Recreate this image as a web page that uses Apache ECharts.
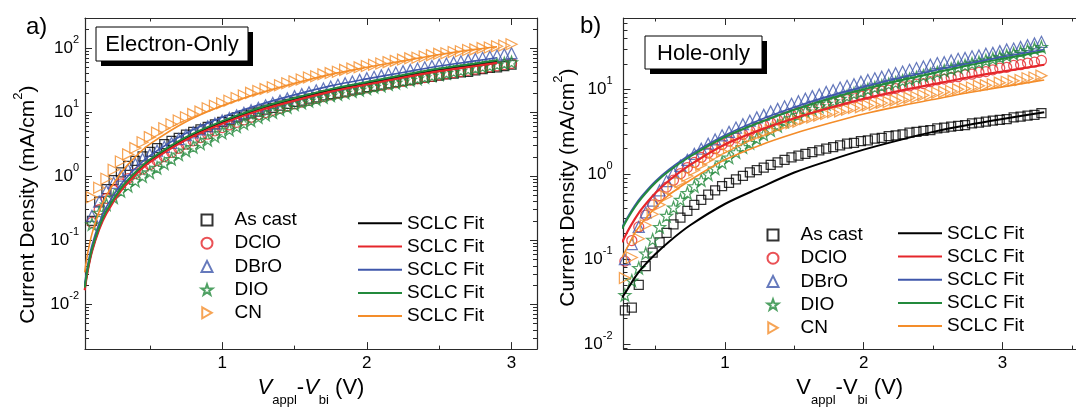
<!DOCTYPE html>
<html>
<head>
<meta charset="utf-8">
<script src="https://cdn.jsdelivr.net/npm/echarts@6/dist/echarts.min.js"></script>
<style>
  html, body { margin: 0; padding: 0; background: #fff; }
  #chart { width: 1076px; height: 412px; }
</style>
</head>
<body>
<div id="chart"></div>
<script>
// ---------- Panel a) electron-only devices ----------
const voltsA = [0.05,0.10,0.15,0.20,0.25,0.30,0.35,0.40,0.45,0.50,0.55,0.60,0.65,0.70,0.75,0.80,0.85,0.90,0.95,1.00,
  1.05,1.10,1.15,1.20,1.25,1.30,1.35,1.40,1.45,1.50,1.55,1.60,1.65,1.70,1.75,1.80,1.85,1.90,1.95,2.00,
  2.05,2.10,2.15,2.20,2.25,2.30,2.35,2.40,2.45,2.50,2.55,2.60,2.65,2.70,2.75,2.80,2.85,2.90,2.95,3.00];
const asCastA = [0.079,0.20,0.40,0.63,0.87,1.15,1.45,1.74,2.04,2.40,2.75,3.16,3.55,3.98,4.47,4.90,5.37,5.89,6.46,7.08,
  7.59,8.32,8.91,9.55,10.2,11.0,11.7,12.6,13.5,14.5,15.1,16.2,17.0,18.2,19.1,20.0,20.9,22.4,23.4,24.5,
  25.7,26.9,28.2,29.5,30.9,31.6,33.1,34.7,35.5,37.2,38.9,39.8,41.7,42.7,44.7,46.8,49.0,50.1,52.5,55.0];
const dcloA = [0.089,0.19,0.30,0.45,0.60,0.76,0.92,1.10,1.29,1.51,1.75,2.03,2.36,2.73,3.16,3.56,4.02,4.53,5.11,5.75,
  6.31,6.92,7.59,8.32,9.12,9.86,10.7,11.5,12.5,13.5,14.4,15.3,16.4,17.5,18.6,19.6,20.6,21.7,22.8,24.0,
  25.1,26.3,27.5,28.8,30.2,31.6,33.1,34.7,36.3,38.0,39.6,41.3,43.1,44.9,46.8,48.8,50.8,53.0,55.2,57.5];
const dbroA = [0.112,0.24,0.40,0.59,0.79,1.02,1.26,1.55,1.86,2.19,2.51,2.88,3.31,3.80,4.37,4.85,5.40,6.00,6.67,7.41,
  8.13,8.91,9.77,10.7,11.7,12.8,13.9,15.1,16.4,17.8,19.1,20.4,21.9,23.4,25.1,26.7,28.3,30.1,31.9,33.9,
  35.6,37.5,39.4,41.5,43.7,45.7,47.9,50.1,52.5,55.0,57.3,59.7,62.2,64.9,67.6,70.5,73.5,76.6,79.8,83.2];
const dioA = [0.089,0.178,0.269,0.363,0.468,0.589,0.708,0.851,1.00,1.15,1.35,1.58,1.86,2.19,2.51,2.86,3.25,3.70,4.21,4.79,
  5.35,5.97,6.67,7.45,8.32,9.12,10.0,11.0,12.0,13.2,14.1,15.0,16.0,17.1,18.2,19.1,20.1,21.2,22.3,23.4,
  24.7,25.9,27.3,28.7,30.2,31.8,33.4,35.2,37.0,38.9,40.7,42.7,44.7,46.8,49.0,51.1,53.2,55.5,57.8,60.3];
const cnA = [0.316,0.468,0.661,0.912,1.26,1.70,2.19,2.75,3.39,4.07,4.79,5.62,6.46,7.41,8.32,9.33,10.2,11.5,12.6,13.8,
  15.1,16.6,18.2,20.0,21.4,22.9,24.5,26.3,28.2,30.2,32.4,34.7,36.3,38.9,40.7,42.7,45.7,47.9,50.1,52.5,
  55.0,57.5,60.3,63.1,66.1,69.2,70.8,74.1,77.6,81.3,83.2,87.1,89.1,93.3,95.5,100,102,107,110,115];

const fitVoltsA = [0.05,0.07,0.10,0.15,0.20,0.30,0.40,0.50,0.75,1.00,1.25,1.50,1.75,2.00,2.25,2.50,2.75,2.90];
const asCastFitA = [0.0174,0.0339,0.0692,0.155,0.275,0.617,1.10,1.74,3.89,6.92,11.0,15.8,21.9,28.2,36.3,45.7,55.0,61.7];
const dcloFitA = [0.0166,0.0324,0.0661,0.148,0.263,0.589,1.05,1.66,3.72,6.61,10.5,15.1,20.9,27.0,34.7,43.7,52.5,58.9];
const dbroFitA = [0.0209,0.0407,0.0832,0.186,0.331,0.741,1.32,2.09,4.68,8.32,12.9,18.6,25.7,33.1,41.7,52.5,63.1,70.8];
const dioFitA = [0.0182,0.0355,0.0724,0.162,0.288,0.646,1.15,1.82,4.07,7.24,11.5,16.6,22.9,29.5,38.0,47.9,57.5,64.6];
const cnFitA = [0.0316,0.0617,0.126,0.282,0.501,1.12,2.00,3.16,7.08,12.6,19.5,28.2,38.9,50.1,63.1,79.4,95.5,105];

// ---------- Panel b) hole-only devices ----------
const voltsB = [0.28,0.33,0.38,0.43,0.48,0.53,0.58,0.63,0.68,0.73,0.78,0.83,0.88,0.93,0.98,1.03,1.08,1.13,1.18,1.23,
  1.28,1.33,1.38,1.43,1.48,1.53,1.58,1.63,1.68,1.73,1.78,1.83,1.88,1.93,1.98,2.03,2.08,2.13,2.18,2.23,
  2.28,2.33,2.38,2.43,2.48,2.53,2.58,2.63,2.68,2.73,2.78,2.83,2.88,2.93,2.98,3.03,3.08,3.13,3.18,3.23,3.28];
const asCastB = [0.025,0.027,0.050,0.083,0.120,0.158,0.204,0.257,0.309,0.372,0.437,0.501,0.575,0.646,0.724,0.794,0.871,0.955,1.05,1.12,
  1.20,1.29,1.38,1.48,1.58,1.66,1.74,1.82,1.91,2.00,2.09,2.19,2.29,2.34,2.45,2.51,2.63,2.69,2.82,2.88,
  2.95,3.09,3.16,3.24,3.31,3.47,3.55,3.63,3.72,3.80,3.98,4.07,4.17,4.27,4.37,4.47,4.68,4.79,4.90,5.01,5.25];
const dcloB = [0.095,0.166,0.240,0.331,0.437,0.562,0.708,0.851,1.02,1.20,1.38,1.58,1.78,2.00,2.24,2.45,2.69,2.95,3.24,3.55,
  3.80,4.07,4.37,4.68,5.01,5.37,5.62,6.03,6.31,6.61,6.92,7.24,7.59,7.94,8.32,8.71,9.12,9.55,9.77,10.2,
  10.7,11.0,11.5,11.7,12.3,12.9,13.2,13.8,14.1,14.8,15.1,15.8,16.2,17.0,17.8,18.2,19.1,19.5,20.4,20.9,21.9];
const dbroB = [0.100,0.151,0.240,0.355,0.490,0.646,0.832,1.05,1.26,1.48,1.74,2.00,2.29,2.57,2.88,3.16,3.55,3.89,4.27,4.68,
  5.01,5.50,5.89,6.31,6.76,7.24,7.76,8.32,8.71,9.33,9.77,10.5,11.0,11.5,12.3,12.9,13.5,14.1,14.8,15.5,
  16.2,17.0,17.8,18.6,19.5,20.4,20.9,21.9,22.9,23.4,24.5,25.1,26.3,26.9,28.2,29.5,30.2,31.6,33.1,34.7,36.3];
const dioB = [0.038,0.056,0.079,0.117,0.170,0.240,0.324,0.407,0.501,0.603,0.724,0.851,1.00,1.17,1.38,1.58,1.82,2.09,2.34,2.63,
  2.95,3.31,3.72,4.17,4.57,5.01,5.50,5.89,6.31,6.76,7.24,7.76,8.32,8.91,9.33,10.0,10.5,11.0,11.5,12.0,
  12.6,13.2,13.8,14.5,15.1,15.8,16.6,17.4,18.2,19.1,20.0,20.9,21.9,22.9,24.0,25.1,26.3,27.5,28.8,30.2,31.6];
const cnB = [0.060,0.105,0.174,0.251,0.339,0.437,0.550,0.676,0.813,0.955,1.12,1.29,1.48,1.66,1.86,2.04,2.24,2.45,2.69,2.88,
  3.09,3.31,3.55,3.80,3.98,4.17,4.47,4.68,4.90,5.13,5.37,5.50,5.75,6.03,6.17,6.46,6.61,6.92,7.08,7.41,
  7.59,7.94,8.13,8.51,8.71,9.12,9.33,9.55,10.0,10.2,10.5,11.0,11.2,11.5,12.0,12.3,12.6,12.9,13.5,13.8,14.5];

const fitVoltsB = [0.26,0.30,0.35,0.40,0.50,0.60,0.75,1.00,1.25,1.50,1.75,2.00,2.25,2.50,2.75,3.00,3.30];
const asCastFitB = [0.0355,0.0447,0.0603,0.0776,0.115,0.162,0.251,0.447,0.692,1.05,1.45,1.95,2.51,3.16,3.80,4.47,5.37];
const dcloFitB = [0.158,0.214,0.295,0.389,0.603,0.851,1.29,2.24,3.31,4.57,6.03,7.76,9.55,11.5,13.8,16.2,19.5];
const dbroFitB = [0.240,0.316,0.427,0.550,0.832,1.15,1.70,2.88,4.37,6.17,8.32,10.7,13.5,16.6,20.0,24.0,29.5];
const dioFitB = [0.229,0.302,0.407,0.525,0.794,1.10,1.62,2.75,4.07,5.75,7.76,10.0,12.6,15.5,19.1,22.9,28.2];
const cnFitB = [0.105,0.141,0.200,0.263,0.407,0.575,0.851,1.48,2.19,3.02,3.98,5.13,6.31,7.59,9.12,10.7,12.9];

// ---------- Tick values ----------
const xMajorTicks = [1, 2, 3];
const xMinorTicks = [0.5, 1.5, 2.5, 3.5];
const yMajorTicksA = [0.01, 0.1, 1, 10, 100];
const yMinorTicksA = [0.002,0.003,0.004,0.005,0.006,0.007,0.008,0.009,
  0.02,0.03,0.04,0.05,0.06,0.07,0.08,0.09, 0.2,0.3,0.4,0.5,0.6,0.7,0.8,0.9,
  2,3,4,5,6,7,8,9, 20,30,40,50,60,70,80,90, 200];
const yMajorTicksB = [0.01, 0.1, 1, 10];
const yMinorTicksB = [0.009, 0.02,0.03,0.04,0.05,0.06,0.07,0.08,0.09, 0.2,0.3,0.4,0.5,0.6,0.7,0.8,0.9,
  2,3,4,5,6,7,8,9, 20,30,40,50,60];

const sampleNames = ['As cast', 'DClO', 'DBrO', 'DIO', 'CN'];
const fitNames = ['As cast fit', 'DClO fit', 'DBrO fit', 'DIO fit', 'CN fit'];

// ---------- Styling ----------
const FONT = '"Liberation Sans", Arial, Helvetica, sans-serif';
const AXIS_COLOR = '#2a2a2a';
const COLORS = ['#000000', '#e5262b', '#3f57ab', '#238a3c', '#f48d2a'];
const STAR = 'path://M0,-10 L2.35,-3.24 L9.51,-3.09 L3.8,1.24 L5.88,8.09 L0,4 L-5.88,8.09 L-3.8,1.24 L-9.51,-3.09 L-2.35,-3.24 Z';
const RIGHT_TRIANGLE = 'path://M0,0 L17.32,10 L0,20 Z';
const SYMBOLS = [
  { symbol: 'rect', size: 9 },
  { symbol: 'circle', size: 10 },
  { symbol: 'triangle', size: 11 },
  { symbol: STAR, size: 12 },
  { symbol: RIGHT_TRIANGLE, size: 11 }
];
const FIT_WIDTHS = [2, 2.2, 1.6, 2, 1.6];

function pairs(xs, ys) { return xs.map((x, i) => [x, ys[i]]); }

function markerSeries(k, xs, ys, axisIdx) {
  const s = SYMBOLS[k];
  return {
    type: 'scatter', name: sampleNames[k], xAxisIndex: axisIdx, yAxisIndex: axisIdx,
    data: pairs(xs, ys), symbol: s.symbol, symbolSize: s.size,
    itemStyle: { color: 'rgba(255,255,255,0)', borderColor: COLORS[k], borderWidth: 1.25 },
    z: 2, silent: true, animation: false
  };
}

function fitSeries(k, xs, ys, axisIdx) {
  return {
    type: 'line', name: fitNames[k], xAxisIndex: axisIdx, yAxisIndex: axisIdx,
    data: pairs(xs, ys), symbol: 'none', smooth: 0.3,
    lineStyle: { color: COLORS[k], width: FIT_WIDTHS[k] }, itemStyle: { color: COLORS[k] },
    z: 3, silent: true, animation: false
  };
}

function xAxisSet(grid, min, max, italicV) {
  const base = {
    type: 'value', gridIndex: grid, min: min, max: max,
    splitLine: { show: false },
    axisLine: { onZero: false, lineStyle: { color: AXIS_COLOR, width: 1.2 } }
  };
  const vStyle = { fontSize: 22, fontFamily: FONT, color: '#000', verticalAlign: 'bottom', padding: [0, 0, 8, 0], fontStyle: italicV ? 'italic' : 'normal' };
  return [
    Object.assign({}, base, {
      position: 'bottom',
      axisTick: { inside: true, length: 7, customValues: xMajorTicks, lineStyle: { color: AXIS_COLOR } },
      axisLabel: { customValues: xMajorTicks, margin: 6, fontSize: 17, fontFamily: FONT, color: '#000' },
      name: '{v|V}{s|appl}{m|-}{v|V}{s|bi}{m| (V)}',
      nameLocation: 'middle', nameGap: 24,
      nameTextStyle: {
        rich: {
          v: vStyle,
          m: { fontSize: 22, fontFamily: FONT, color: '#000', verticalAlign: 'bottom', padding: [0, 0, 8, 0] },
          s: { fontSize: 13, fontFamily: FONT, color: '#000', verticalAlign: 'bottom' }
        }
      }
    }),
    Object.assign({}, base, {
      position: 'bottom', axisLine: { show: false },
      axisTick: { inside: true, length: 3.5, customValues: xMinorTicks, lineStyle: { color: AXIS_COLOR } },
      axisLabel: { show: false }
    }),
    Object.assign({}, base, {
      position: 'top',
      axisTick: { inside: true, length: 7, customValues: xMajorTicks, lineStyle: { color: AXIS_COLOR } },
      axisLabel: { show: false }
    }),
    Object.assign({}, base, {
      position: 'top', axisLine: { show: false },
      axisTick: { inside: true, length: 3.5, customValues: xMinorTicks, lineStyle: { color: AXIS_COLOR } },
      axisLabel: { show: false }
    })
  ];
}

function decadeLabel(v) {
  const e = Math.round(Math.log10(v));
  return '{b|10}{s|' + e + '}';
}

function yAxisSet(grid, min, max, majors, minors, withRight, labelMargin, nameGap, nameTail) {
  const base = {
    type: 'log', logBase: 10, gridIndex: grid, min: min, max: max,
    splitLine: { show: false },
    axisLine: { onZero: false, lineStyle: { color: AXIS_COLOR, width: 1.2 } }
  };
  const axes = [
    Object.assign({}, base, {
      position: 'left',
      axisTick: { inside: true, length: 7, customValues: majors, lineStyle: { color: AXIS_COLOR } },
      axisLabel: {
        customValues: majors, margin: labelMargin, formatter: decadeLabel, padding: [0, 0, 5, 0],
        rich: {
          b: { fontSize: 17, fontFamily: FONT, color: '#000', verticalAlign: 'bottom', padding: [5, 0, 0, 0] },
          s: { fontSize: 11, fontFamily: FONT, color: '#000', verticalAlign: 'top' }
        }
      },
      // extra padding after the closing bracket nudges the rotated title toward the bottom
      name: '{m|Current Density (mA/cm}{s|2}{e|)}',
      nameLocation: 'middle', nameGap: nameGap, nameRotate: 90,
      nameTextStyle: {
        rich: {
          m: { fontSize: 21, fontFamily: FONT, color: '#000', verticalAlign: 'bottom', padding: [6, 0, 0, 0] },
          s: { fontSize: 13, fontFamily: FONT, color: '#000', verticalAlign: 'top' },
          e: { fontSize: 21, fontFamily: FONT, color: '#000', verticalAlign: 'bottom', padding: [6, nameTail, 0, 0] }
        }
      }
    }),
    Object.assign({}, base, {
      position: 'left', axisLine: { show: false },
      axisTick: { inside: true, length: 4, customValues: minors, lineStyle: { color: AXIS_COLOR } },
      axisLabel: { show: false }
    })
  ];
  if (withRight) {
    axes.push(Object.assign({}, base, {
      position: 'right',
      axisTick: { inside: true, length: 7, customValues: majors, lineStyle: { color: AXIS_COLOR } },
      axisLabel: { show: false }
    }));
    axes.push(Object.assign({}, base, {
      position: 'right', axisLine: { show: false },
      axisTick: { inside: true, length: 4, customValues: minors, lineStyle: { color: AXIS_COLOR } },
      axisLabel: { show: false }
    }));
  }
  return axes;
}

function sampleLegend(left, top) {
  return {
    data: sampleNames, orient: 'vertical', left: left, top: top, padding: 0,
    itemWidth: 11, itemHeight: 11, itemGap: 4.2, selectedMode: false,
    textStyle: { fontSize: 19, fontFamily: FONT, color: '#000', lineHeight: 19, padding: [0, 0, 0, 17] }
  };
}

function fitLegend(left, top) {
  return {
    data: fitNames, orient: 'vertical', left: left, top: top, padding: 0,
    icon: 'rect', itemWidth: 44, itemHeight: 2, itemGap: 4.2, selectedMode: false,
    formatter: function () { return 'SCLC Fit'; },
    textStyle: { fontSize: 19, fontFamily: FONT, color: '#000', lineHeight: 19 }
  };
}

function labelBox(x, y, w, h, text) {
  return [
    { type: 'rect', shape: { x: x + 5, y: y + 5, width: w, height: h }, style: { fill: '#000' }, z: 50 },
    { type: 'rect', shape: { x: x, y: y, width: w, height: h }, style: { fill: '#fff', stroke: '#000', lineWidth: 1 }, z: 51 },
    { type: 'text', x: x + w / 2, y: y + h / 2 + 1, z: 52,
      style: { text: text, font: '22px ' + FONT, fill: '#000', align: 'center', verticalAlign: 'middle' } }
  ];
}

const series = [];
const marksA = [asCastA, dcloA, dbroA, dioA, cnA];
const fitsA = [asCastFitA, dcloFitA, dbroFitA, dioFitA, cnFitA];
const marksB = [asCastB, dcloB, dbroB, dioB, cnB];
const fitsB = [asCastFitB, dcloFitB, dbroFitB, dioFitB, cnFitB];
for (let k = 0; k < 5; k++) series.push(markerSeries(k, voltsA, marksA[k], 0));
for (let k = 0; k < 5; k++) series.push(fitSeries(k, fitVoltsA, fitsA[k], 0));
for (let k = 0; k < 5; k++) series.push(markerSeries(k, voltsB, marksB[k], 4));
for (let k = 0; k < 5; k++) series.push(fitSeries(k, fitVoltsB, fitsB[k], 4));

const option = {
  animation: false,
  backgroundColor: '#ffffff',
  grid: [
    { left: 85, top: 18, width: 452, height: 337 },
    { left: 623.5, top: 18, width: 466, height: 339 }
  ],
  xAxis: [].concat(
    xAxisSet(0, 0.052, 3.176, true),
    xAxisSet(1, 0.27, 3.529, false)
  ),
  yAxis: [].concat(
    yAxisSet(0, 0.002, 295, yMajorTicksA, yMinorTicksA, true, 6, 46, 42),
    yAxisSet(1, 0.00875, 69.2, yMajorTicksB, yMinorTicksB, false, 11, 45, 8)
  ),
  legend: [
    sampleLegend(200.5, 210.5),
    fitLegend(358, 213.8),
    sampleLegend(766.5, 225.5),
    fitLegend(898, 223.8)
  ],
  graphic: [].concat(
    [
      { type: 'text', left: 26, top: 15, style: { text: 'a)', font: '24px ' + FONT, fill: '#000' } },
      { type: 'text', left: 580, top: 14, style: { text: 'b)', font: '24px ' + FONT, fill: '#000' } }
    ],
    labelBox(96, 27, 152, 34, 'Electron-Only'),
    labelBox(645, 36, 117, 33, 'Hole-only')
  ),
  series: series
};

const chart = echarts.init(document.getElementById('chart'), null, { renderer: 'canvas' });
chart.setOption(option);
</script>
</body>
</html>
